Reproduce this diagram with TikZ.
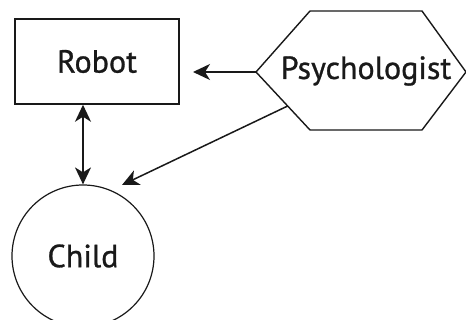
\documentclass[tikz,border=0pt]{standalone}
\usepackage{fontspec}
\setmainfont{PT Sans}
\newfontface\rolefont{PT Sans}[FakeBold=0.9]
\usetikzlibrary{arrows.meta}
\definecolor{ink}{RGB}{25,25,25}

\begin{document}
\begin{tikzpicture}[x=1pt, y=1pt,
    roletext/.style={font=\rolefont\fontsize{32}{36}\selectfont, text=ink},
    tip/.style={Stealth[length=17pt,width=16pt,inset=5pt]},
    link/.style={draw=ink, line width=1.5pt, -{Stealth[length=17pt,width=16pt,inset=5pt]}}]
            % Frame to ensure alignment
            \useasboundingbox (0,0) rectangle (466,320);
            % Robot
            \node[roletext, draw=ink, line width=1.5pt, minimum width=164pt, minimum height=85pt] (robot) at (97,258.5) {Robot};
            % Child
            \node[roletext, circle, draw=ink, line width=1.2pt, minimum size=142pt] (child) at (83,64) {Child};
            % Psychologist
            \node[roletext] (psych) at (366,249) {Psychologist};
            \draw[ink, line width=1.4pt] (256,248) -- (310,309) -- (422,309) -- (466,248) -- (422,190) -- (310,190) -- cycle;
            % Arrow ends
            \coordinate (psychW) at (256,248);
            \coordinate (psychSW) at (287.7,214);
            \coordinate (robotE) at (193,248);
            \coordinate (childNE) at (122,135);
            % Links
            \draw[link] (psychW) -- (robotE);
            \draw[link] (psychSW) -- (childNE);
            \draw[link, {Stealth[length=17pt,width=16pt,inset=5pt]}-{Stealth[length=17pt,width=16pt,inset=5pt]}] (child.north) -- (child.north |- robot.south);
        \end{tikzpicture}
\end{document}
